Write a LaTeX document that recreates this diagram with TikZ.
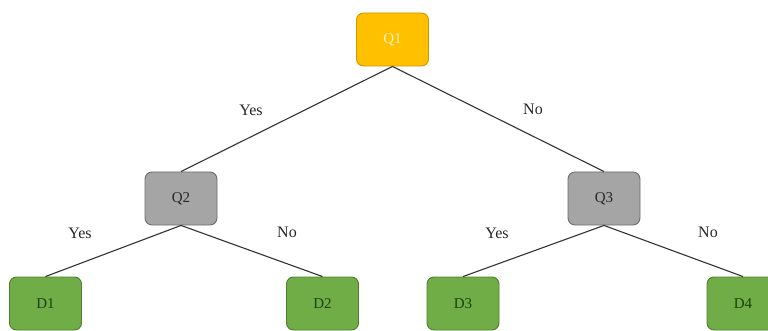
\documentclass[tikz,border=0pt]{standalone}
\usepackage{fontspec}
\setmainfont{Liberation Serif}
\definecolor{qone}{HTML}{FFC000}
\definecolor{qoneb}{HTML}{C99700}
\definecolor{qonet}{HTML}{FFF0C0}
\definecolor{qgray}{HTML}{A5A5A5}
\definecolor{qgrayb}{HTML}{6E6E6E}
\definecolor{dgreen}{HTML}{70AD47}
\definecolor{dgreenb}{HTML}{4E7D30}
\definecolor{dtext}{HTML}{1A420C}
\definecolor{edgec}{HTML}{333333}
\begin{document}
\begin{tikzpicture}[x=1pt,y=-1pt,
  box/.style={rounded corners=7pt, minimum width=72pt, minimum height=53pt, inner sep=0pt, line width=0.9pt, font=\fontsize{15}{17}\selectfont},
  qtop/.style={box, fill=qone, draw=qoneb, text=qonet},
  qmid/.style={box, fill=qgray, draw=qgrayb, text=black!85},
  leaf/.style={box, fill=dgreen, draw=dgreenb, text=dtext},
  edge/.style={draw=edgec, line width=1.1pt},
  lab/.style={font=\fontsize{16}{18}\selectfont, text=black!85}]
\clip (0,0) rectangle (768,331);
\useasboundingbox (0,0) rectangle (768,331);
\fill[white] (0,0) rectangle (768,331);
\node[qtop] (q1) at (392.5,39.5) {Q1};
\node[qmid] (q2) at (181,198.5) {Q2};
\node[qmid] (q3) at (604,198.5) {Q3};
\node[leaf] (d1) at (45.5,303.5) {D1};
\node[leaf] (d2) at (322.5,303.5) {D2};
\node[leaf] (d3) at (463,303.5) {D3};
\node[leaf] (d4) at (743,303.5) {D4};
\draw[edge] (q1.south) -- (q2.north);
\draw[edge] (q1.south) -- (q3.north);
\draw[edge] (q2.south) -- (d1.north);
\draw[edge] (q2.south) -- (d2.north);
\draw[edge] (q3.south) -- (d3.north);
\draw[edge] (q3.south) -- (d4.north);
\node[lab] (l1) at (251,110) {Yes};
\node[lab] (l2) at (533,109) {No};
\node[lab] (l3) at (80,233) {Yes};
\node[lab] (l4) at (287,232) {No};
\node[lab] (l5) at (497,233) {Yes};
\node[lab] (l6) at (708,232) {No};
\end{tikzpicture}
\end{document}
